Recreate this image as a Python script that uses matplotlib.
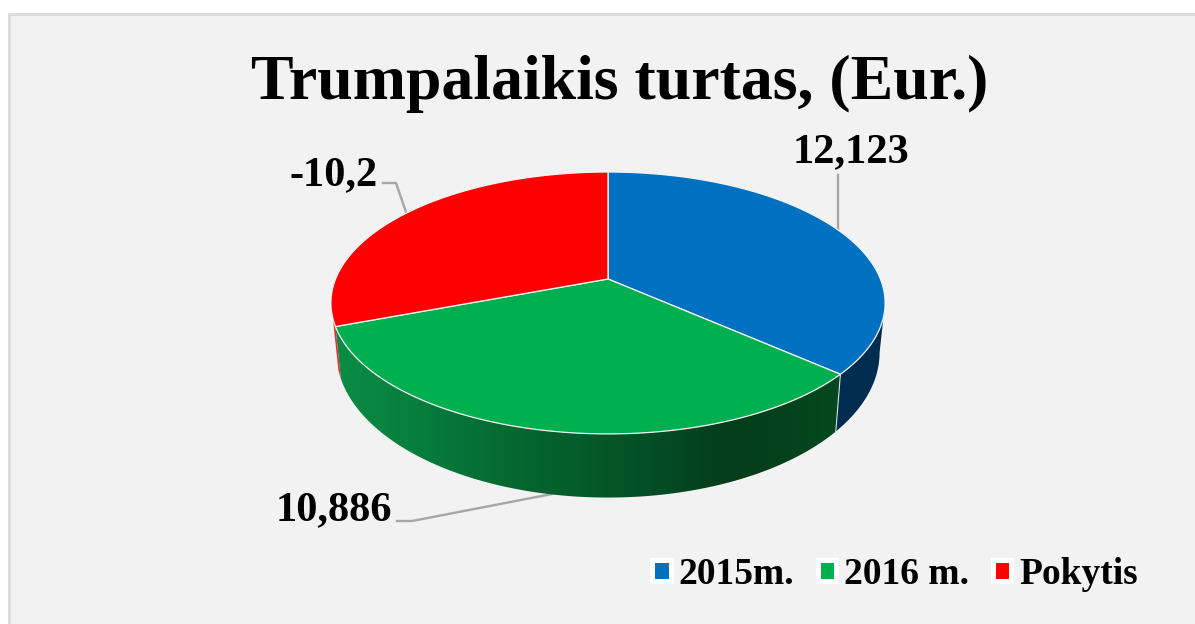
import numpy as np
import matplotlib
matplotlib.use('Agg')
import matplotlib.pyplot as plt
from matplotlib.patches import Patch, Polygon, Rectangle

# data
categories = ['2015m.', '2016 m.', 'Pokytis']
values = [12.123, 10.886, 10.2]
value_labels = ['12,123', '10,886', '-10,2']
title = 'Trumpalaikis turtas, (Eur.)'

top_colors = ['#0070c0', '#00b050', '#ff0000']
wall_colors = ['#002c50', None, '#e03030']
green_stops = [(336, '#0a8c46'), (420, '#077d3c'), (520, '#056630'),
               (620, '#045428'), (730, '#033c1a'), (835, '#05481f')]

plt.rcParams['font.family'] = ['Liberation Serif', 'DejaVu Serif']
plt.rcParams['font.weight'] = 'bold'

W, H = 1195, 624
fig = plt.figure(figsize=(W / 100, H / 100), dpi=100, facecolor='white')
ax = fig.add_axes([0, 0, 1, 1])
ax.set_xlim(0, W)
ax.set_ylim(H, 0)
ax.axis('off')

ax.add_patch(Rectangle((9.5, 14), W, H, facecolor='#f2f2f2', edgecolor='#d9d9d9', lw=2, zorder=0))

# tilted disc: circle angle (clockwise from 12 o'clock) -> pixels
cx = 608
persp = 0.183


def top_face(t):
    x, y = np.sin(t), np.cos(t)
    w = 1 + persp * y
    return cx + 272.4 * x / w, (279 - 75.5 * y) / w


def bottom_face(t):
    x, y = np.sin(t), np.cos(t)
    w = 1 + persp * y
    return cx + 267 * x / w, (326 - 80.5 * y) / w


def arc(func, a, b, n=200):
    xs, ys = func(np.linspace(a, b, n))
    return np.column_stack([xs, ys])


edges = np.concatenate([[0], np.cumsum(values)]) / np.sum(values) * 2 * np.pi

# side walls, only the part facing the viewer
# blue starts at the right silhouette, red is just a sliver next to the green wall
visible = [(np.arccos(-persp), edges[1]), (edges[1], edges[2]), (edges[2], edges[2] + 0.06)]
for i, (a, b) in enumerate(visible):
    wall = np.vstack([arc(top_face, a, b), arc(bottom_face, b, a)])
    poly = Polygon(wall, closed=True, facecolor=wall_colors[i] or 'none', edgecolor='none', zorder=2)
    ax.add_patch(poly)
    if wall_colors[i] is None:
        xs = [s[0] for s in green_stops]
        rgb = np.array([matplotlib.colors.to_rgb(s[1]) for s in green_stops])
        px = np.arange(330, 845)
        grad = np.column_stack([np.interp(px, xs, rgb[:, k]) for k in range(3)])[None, :, :]
        im = ax.imshow(grad, extent=(330, 845, 510, 320), aspect='auto', zorder=2, interpolation='bilinear')
        im.set_clip_path(poly)
        ax.set_xlim(0, W)
        ax.set_ylim(H, 0)
    # white seam on the wall where the slices meet
    if i == 0:
        p0 = top_face(b)
        p1 = bottom_face(b)
        ax.plot([p0[0], p1[0]], [p0[1], p1[1]], color='white', lw=0.8, alpha=0.8, zorder=3)

# top face
for i in range(3):
    pts = arc(top_face, edges[i], edges[i + 1])
    pts = np.vstack([[top_face(0.0)[0], 279], pts])
    ax.add_patch(Polygon(pts, closed=True, facecolor=top_colors[i], edgecolor='#f4f4f4',
                         lw=0.9, joinstyle='round', zorder=4))

# data labels and their leader lines
leader_color = '#a6a6a6'
ax.plot([838, 838], [175, 230], color=leader_color, lw=1.7, zorder=1)
ax.plot([383, 396, 406], [183, 183, 212], color=leader_color, lw=1.7, zorder=1)
ax.plot([397, 412, 552], [521, 521, 494], color=leader_color, lw=1.7, zorder=1)

ax.text(851, 152, value_labels[0], fontsize=30.5, ha='center', va='center')
ax.text(333.5, 510, value_labels[1], fontsize=30.5, ha='center', va='center')
ax.text(334, 175, value_labels[2], fontsize=30.5, ha='center', va='center')

ax.text(620, 84, title, fontsize=46, ha='center', va='center')

handles = [Patch(facecolor=c, edgecolor='white', lw=3.6, joinstyle='round') for c in top_colors]
ax.legend(handles, categories, ncols=3, fontsize=27, frameon=False,
          loc='center', bbox_to_anchor=(895 / W, 1 - 574 / H),
          handlelength=0.49, handleheight=0.49, handletextpad=0.22, columnspacing=0.62,
          borderpad=0, borderaxespad=0)

fig.savefig('out.png', dpi=100, facecolor='white')
